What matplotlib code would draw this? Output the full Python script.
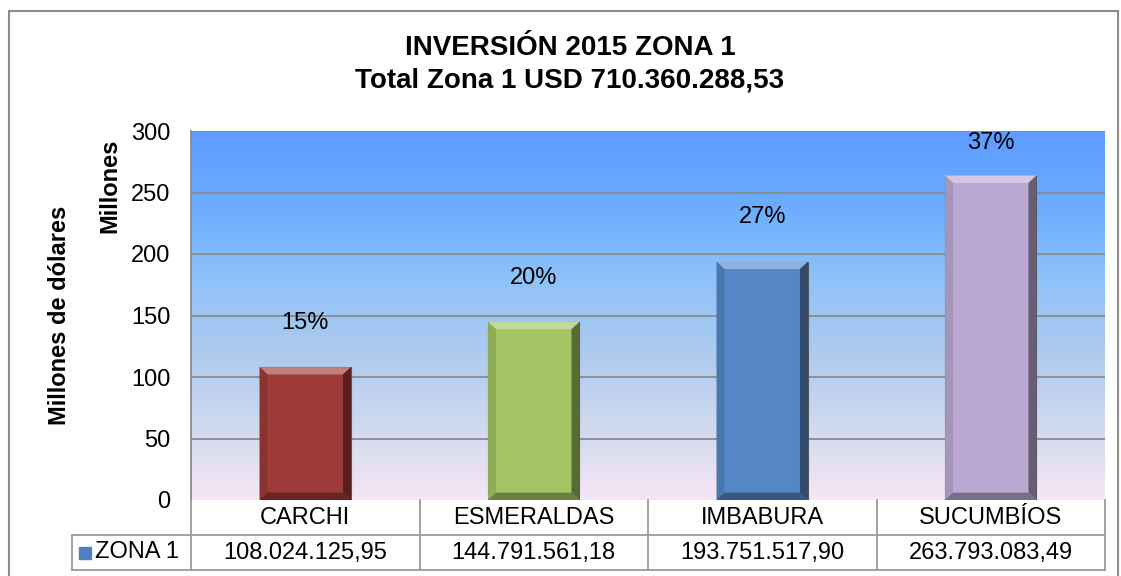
import matplotlib.pyplot as plt
import numpy as np
from matplotlib.colors import LinearSegmentedColormap
from matplotlib.patches import Polygon, Rectangle

plt.rcParams["font.family"] = ["Liberation Sans", "DejaVu Sans"]

# data
provincias = ["CARCHI", "ESMERALDAS", "IMBABURA", "SUCUMBÍOS"]
inversion_mill = [108.024, 144.792, 193.752, 263.793]
inversion_txt = ["108.024.125,95", "144.791.561,18", "193.751.517,90", "263.793.083,49"]
porcentajes = ["15%", "20%", "27%", "37%"]
serie = "ZONA 1"
titulo = "INVERSIÓN 2015 ZONA 1\nTotal Zona 1 USD 710.360.288,53"
y_ticks = [0, 50, 100, 150, 200, 250, 300]

bar_colors = ["#9E3A38", "#A3C463", "#5587C7", "#BBA9D3"]
W, H = 1121, 576

fig = plt.figure(figsize=(W / 100, H / 100), dpi=100)
fig.patch.set_facecolor("white")

# outer chart border
fig.add_artist(Rectangle((9 / W, -0.05), (1118 - 9) / W, (H - 11) / H + 0.05,
                         transform=fig.transFigure, fill=False,
                         edgecolor="#8c8c8c", linewidth=1.5))

# plot area
px_l, px_r, px_t, px_b = 191, 1105, 131, 500
ax = fig.add_axes([px_l / W, (H - px_b) / H, (px_r - px_l) / W, (px_b - px_t) / H])
ax.set_xlim(-0.5, 3.5)
ax.set_ylim(0, 300)

grad = LinearSegmentedColormap.from_list(
    "bg", ["#F6E6F6", "#CFD9EE", "#AECAEF", "#8EC2F9", "#6CACFF", "#5C9CFF"])
ax.imshow(np.linspace(0, 1, 256).reshape(-1, 1), cmap=grad, aspect="auto",
          extent=[-0.5, 3.5, 0, 300], origin="lower", zorder=0)

for y in y_ticks[1:]:
    ax.axhline(y, color="#8a8a8a", linewidth=1.3, zorder=1)

ax.set_yticks(y_ticks)
ax.set_yticklabels([str(v) for v in y_ticks], fontsize=17)
ax.tick_params(axis="y", length=0, pad=15)
ax.set_xticks([])
for side in ["top", "right", "bottom"]:
    ax.spines[side].set_visible(False)
ax.spines["left"].set_color("#8a8a8a")
ax.spines["left"].set_linewidth(1.3)


def shade(color, f):
    c = np.array(plt.matplotlib.colors.to_rgb(color))
    if f >= 0:
        return tuple(c + (1 - c) * f)
    return tuple(c * (1 + f))


bw = 0.4
bx, by = 0.035, 6.0
bars = ax.bar(range(len(provincias)), inversion_mill, width=bw,
              color=bar_colors, edgecolor="#555555", linewidth=0.8, zorder=2)
for bar, col in zip(bars, bar_colors):
    x0 = bar.get_x()
    x1 = x0 + bar.get_width()
    h = bar.get_height()
    faces = [
        ([(x0, h), (x1, h), (x1 - bx, h - by), (x0 + bx, h - by)], shade(col, 0.35)),
        ([(x1, h), (x1, 0), (x1 - bx, by), (x1 - bx, h - by)], shade(col, -0.45)),
        ([(x0, h), (x0, 0), (x0 + bx, by), (x0 + bx, h - by)], shade(col, -0.12)),
        ([(x0, 0), (x1, 0), (x1 - bx, by), (x0 + bx, by)], shade(col, -0.35)),
    ]
    for pts, fc in faces:
        ax.add_patch(Polygon(pts, closed=True, facecolor=fc, edgecolor="none", zorder=3))

for i, (v, p) in enumerate(zip(inversion_mill, porcentajes)):
    ax.text(i, min(v + 36, 290), p, ha="center", va="center", fontsize=17, zorder=4)

# title and axis titles
fig.text(570 / W, 1 - 64 / H, titulo, ha="center", va="center", fontsize=20,
         fontweight="bold", linespacing=1.3)
fig.text(60 / W, 1 - 315 / H, "Millones de dólares", rotation=90, ha="center",
         va="center", fontsize=17, fontweight="bold")
fig.text(110 / W, 1 - 186 / H, "Millones", rotation=90, ha="center",
         va="center", fontsize=17, fontweight="bold")

# data table
tab_l, tab_b = 72, 570
unit = (px_r - px_l) / 4
hdr = (px_l - tab_l) / unit
tax = fig.add_axes([tab_l / W, (H - tab_b) / H, (px_r - tab_l) / W, (tab_b - px_b) / H])
tax.set_xlim(-0.5 - hdr, 3.5)
tax.set_ylim(0, 2)
tax.axis("off")
lc = "#9a9a9a"
n = len(provincias)
tax.plot([-0.5 - hdr, 3.5], [0, 0], color=lc, lw=1.3, clip_on=False)
tax.plot([-0.5 - hdr, 3.5], [1, 1], color=lc, lw=1.3, clip_on=False)
tax.plot([-0.5 - hdr, -0.5 - hdr], [0, 1], color=lc, lw=1.3, clip_on=False)
for k in range(n + 1):
    tax.plot([k - 0.5, k - 0.5], [0, 2], color=lc, lw=1.3, clip_on=False)
for i, (name, val) in enumerate(zip(provincias, inversion_txt)):
    tax.text(i, 1.5, name, ha="center", va="center", fontsize=17)
    tax.text(i, 0.5, val, ha="center", va="center", fontsize=17)
tax.plot([-0.5 - hdr + 0.057], [0.5], marker="s", markersize=8, color="#4F81BD",
         linestyle="none", clip_on=False)
tax.text(-0.5 - hdr + 0.1, 0.5, serie, ha="left", va="center", fontsize=17)

fig.savefig("out.png", dpi=100)
